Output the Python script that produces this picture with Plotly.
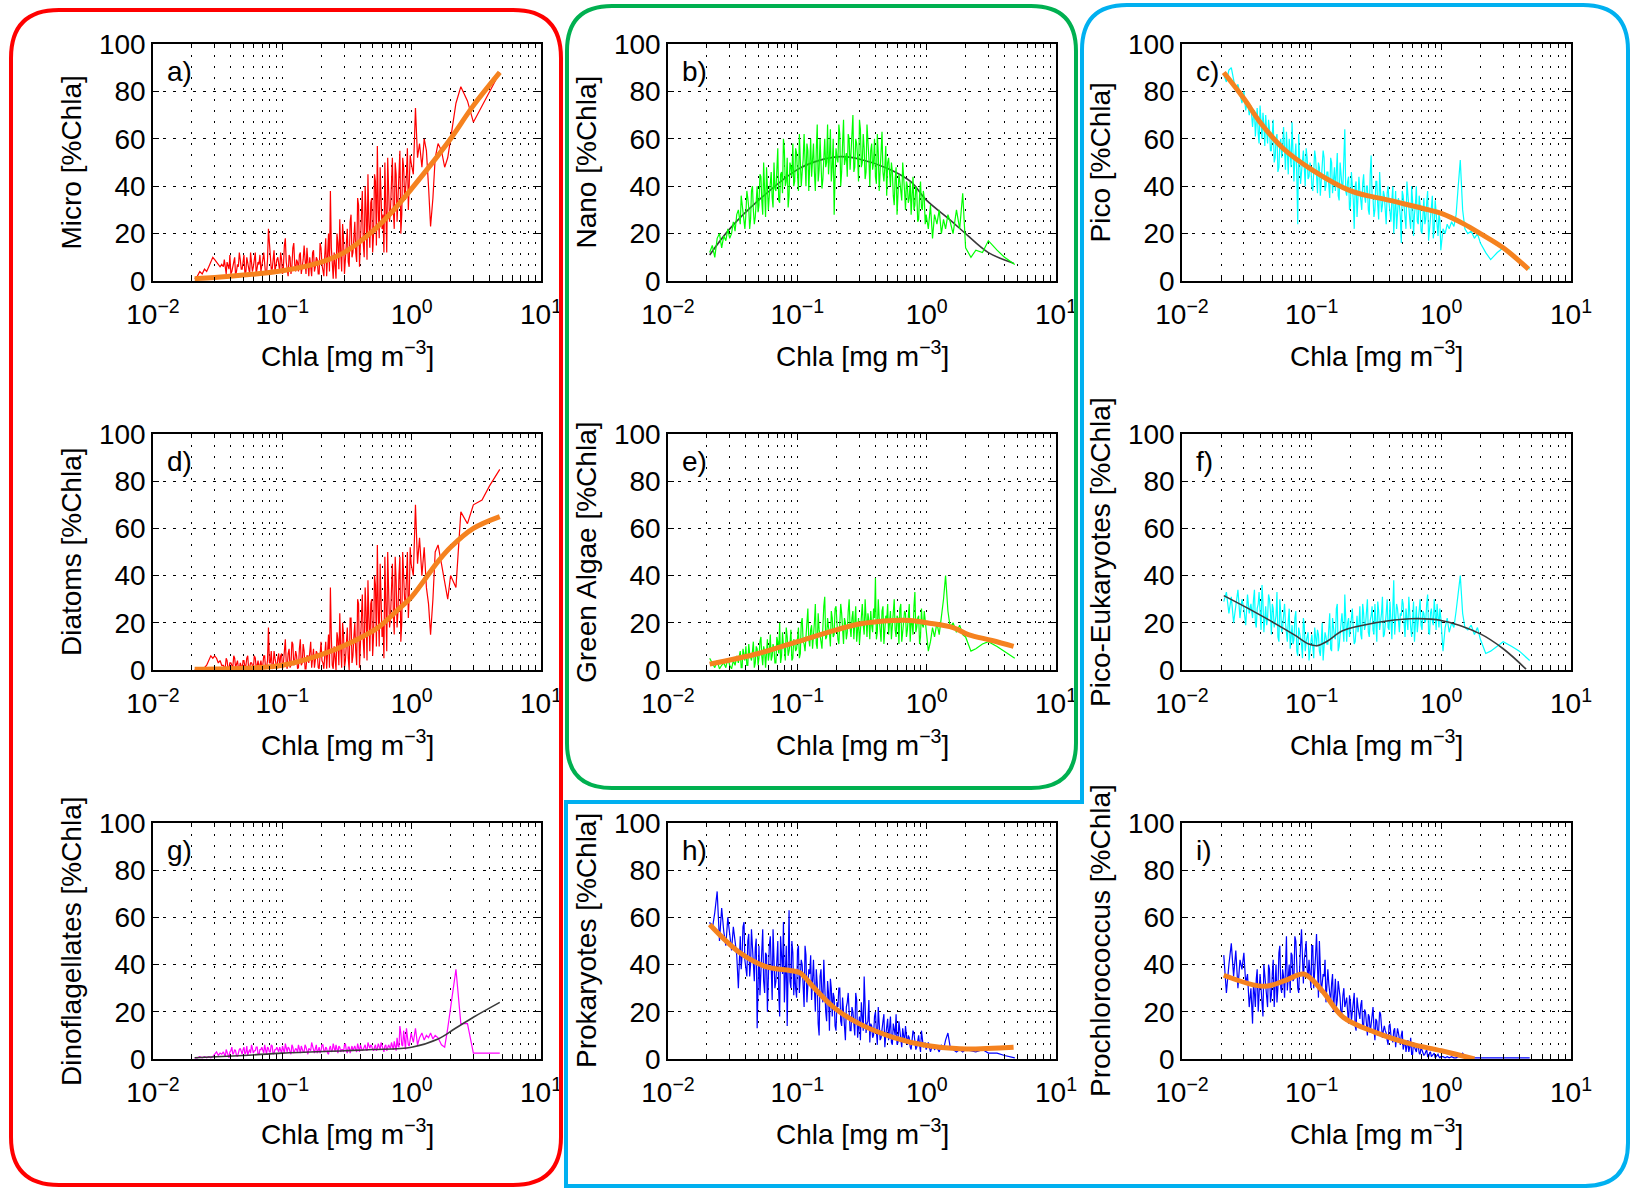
import plotly.graph_objects as go

# ---------------- shared Chla axis values ----------------
CHLA_LOW = [0.021, 0.022, 0.023, 0.024, 0.025, 0.026, 0.027, 0.028, 0.029, 0.030, 0.031, 0.032, 0.033, 0.034]
CHLA_MID = [0.0350, 0.0362, 0.0374, 0.0387, 0.0400, 0.0414, 0.0428, 0.0442, 0.0457, 0.0473,
            0.0489, 0.0505, 0.0523, 0.0540, 0.0559, 0.0578, 0.0597, 0.0618, 0.0639, 0.0660,
            0.0683, 0.0706, 0.0730, 0.0755, 0.0781, 0.0807, 0.0835, 0.0863, 0.0892, 0.0923,
            0.0954, 0.0987, 0.1020, 0.1055, 0.1090, 0.1128, 0.1166, 0.1206, 0.1247, 0.1289,
            0.1333, 0.1378, 0.1425, 0.1474, 0.1524, 0.1576, 0.1629, 0.1685, 0.1742, 0.1801,
            0.1862, 0.1926, 0.1991, 0.2059, 0.2129, 0.2201, 0.2276, 0.2353, 0.2433, 0.2516,
            0.2601, 0.2690, 0.2781, 0.2876, 0.2973, 0.3074, 0.3179, 0.3287, 0.3399, 0.3514,
            0.3634, 0.3757, 0.3885, 0.4017, 0.4154, 0.4295, 0.4441, 0.4592, 0.4748, 0.4910,
            0.5077, 0.5249, 0.5428, 0.5612, 0.5803, 0.6001, 0.6205, 0.6416, 0.6634, 0.6859,
            0.7093, 0.7334, 0.7583, 0.7841, 0.8108, 0.8383, 0.8668, 0.8963, 0.9268, 0.9583,
            0.9909]
CHLA_HIGH = [1.03, 1.07, 1.11, 1.15, 1.20, 1.25, 1.30, 1.35, 1.40, 1.46, 1.52, 1.60, 1.70, 1.80, 1.90, 2.00]
CHLA_TAIL = [2.2, 2.4, 2.7, 3.0, 3.5, 4.0, 4.8]
CHLA = CHLA_LOW + CHLA_MID + CHLA_HIGH + CHLA_TAIL
# second, interleaved set of bins in the densely sampled range
CHLA_MID2 = [0.0356, 0.0368, 0.0380, 0.0393, 0.0407, 0.0421, 0.0435, 0.0450, 0.0465, 0.0481,
             0.0497, 0.0514, 0.0531, 0.0549, 0.0568, 0.0587, 0.0607, 0.0628, 0.0649, 0.0671,
             0.0694, 0.0718, 0.0742, 0.0768, 0.0794, 0.0821, 0.0849, 0.0877, 0.0907, 0.0938,
             0.0970, 0.1003, 0.1037, 0.1072, 0.1109, 0.1147, 0.1186, 0.1226, 0.1268, 0.1311,
             0.1355, 0.1401, 0.1449, 0.1499, 0.1550, 0.1602, 0.1657, 0.1713, 0.1771, 0.1831,
             0.1894, 0.1958, 0.2025, 0.2094, 0.2165, 0.2238, 0.2314, 0.2393, 0.2474, 0.2558,
             0.2645, 0.2735, 0.2828, 0.2924, 0.3023, 0.3126, 0.3233, 0.3343, 0.3456, 0.3574,
             0.3695, 0.3821, 0.3951, 0.4085, 0.4224, 0.4368, 0.4516, 0.4670, 0.4829, 0.4993,
             0.5163, 0.5338, 0.5520, 0.5707, 0.5902, 0.6103, 0.6310, 0.6525, 0.6746, 0.6976,
             0.7213, 0.7458, 0.7712, 0.7974, 0.8245, 0.8525, 0.8815, 0.9115, 0.9425, 0.9745]

# ---------------- binned series (%Chla) ----------------
MICRO = ([1, 2, 4, 3, 5, 4, 6, 8, 10, 9, 8, 7, 6, 7] +
         [6, 4, 8, 5, 3, 7, 10, 4, 6, 9,
          5, 11, 4, 7, 3, 8, 6, 12, 5, 7,
          4, 9, 6, 3, 22, 8, 5, 13, 7, 10,
          4, 9, 6, 18, 5, 11, 3, 14, 7, 9,
          4, 12, 6, 15, 3, 8, 10, 2, 13, 6,
          9, 3, 14, 5, 11, 2, 20, 38, 6, 12,
          1, 16, 26, 4, 18, 9, 22, 6, 28, 12,
          25, 8, 32, 15, 38, 10, 30, 45, 14, 35,
          20, 42, 57, 18, 38, 28, 50, 12, 40, 30,
          52, 22, 45, 35, 55, 28, 48, 38, 56, 42,
          50] +
         [45, 73, 52, 58, 48, 60, 55, 40, 23, 35, 52, 58, 55, 48, 52, 60] +
         [75, 82, 76, 67, 74, 80, 88])
MICRO2 = [9, 3, 6, 11, 4, 8, 2, 7, 12, 5,
          8, 3, 10, 6, 12, 4, 9, 3, 8, 11,
          6, 12, 3, 9, 15, 5, 11, 4, 9, 6,
          12, 3, 15, 8, 2, 10, 6, 16, 4, 8,
          11, 3, 9, 6, 14, 2, 7, 12, 4, 10,
          3, 16, 7, 2, 18, 9, 4, 14, 1, 8,
          20, 5, 12, 24, 3, 14, 8, 25, 10, 18,
          12, 35, 6, 22, 16, 40, 9, 25, 33, 12,
          45, 15, 30, 48, 22, 12, 35, 52, 25, 45,
          30, 50, 25, 42, 20, 52, 35, 45, 30, 53]

NANO = ([12, 15, 10, 18, 20, 14, 19, 17, 22, 18, 20, 25, 21, 28] +
        [30, 24, 33, 26, 28, 35, 22, 38, 30, 27,
         40, 32, 44, 28, 36, 48, 30, 42, 35, 50,
         38, 56, 33, 46, 60, 40, 52, 36, 48, 58,
         42, 54, 38, 50, 46, 62, 40, 55, 48, 44,
         58, 38, 66, 47, 52, 43, 60, 50, 45, 64,
         48, 28, 56, 50, 62, 46, 68, 52, 44, 60,
         54, 70, 48, 58, 42, 64, 50, 56, 46, 60,
         40, 58, 50, 44, 62, 38, 52, 46, 48, 36,
         52, 40, 46, 32, 48, 38, 42, 34, 45, 30,
         40, 35, 28, 44, 32, 38, 26, 42, 30, 35,
         28] +
        [22, 32, 18, 28, 24, 30, 20, 26, 22, 28, 25, 20, 30, 22, 37, 14] +
        [10, 13, 12, 17, 13, 10, 7])
NANO2 = [25, 36, 28, 22, 38, 31, 26, 40, 24, 34,
         29, 45, 34, 50, 27, 41, 36, 46, 31, 39,
         52, 34, 45, 37, 55, 42, 31, 50, 44, 40,
         56, 45, 62, 40, 51, 48, 58, 38, 60, 53,
         46, 55, 42, 60, 39, 57, 48, 66, 52, 42,
         60, 44, 52, 66, 40, 58, 49, 54, 62, 47,
         62, 46, 60, 52, 68, 48, 62, 43, 66, 52,
         55, 47, 60, 41, 54, 48, 63, 42, 57, 50,
         44, 50, 36, 43, 28, 45, 36, 50, 38, 42,
         33, 42, 38, 30, 40, 25, 36, 31, 38, 24]

PICO = ([87, 84, 89, 90, 85, 80, 83, 78, 75, 80, 72, 76, 70, 74] +
        [65, 72, 68, 62, 74, 60, 66, 70, 58, 64,
         55, 68, 52, 62, 48, 60, 56, 50, 63, 45,
         54, 67, 42, 58, 24, 50, 46, 55, 40, 52,
         44, 48, 38, 55, 42, 50, 36, 47, 52, 40,
         46, 35, 50, 42, 38, 54, 34, 45, 40, 64,
         36, 44, 32, 40, 22, 42, 35, 38, 30, 45,
         33, 40, 28, 53, 35, 30, 42, 26, 38, 32,
         36, 24, 40, 30, 34, 20, 38, 28, 32, 16,
         36, 25, 42, 30, 22, 34, 28, 40, 24, 32,
         20, 35, 26, 38, 22, 30, 18, 34, 25, 28,
         13] +
        [22, 20, 24, 22, 25, 23, 28, 40, 51, 30, 22, 20, 21, 18, 20, 16] +
        [12, 9, 12, 14, 11, 8, 5])
PICO2 = [70, 61, 73, 58, 66, 71, 57, 63, 68, 55,
         62, 50, 60, 46, 58, 52, 65, 47, 55, 60,
         48, 57, 52, 44, 62, 41, 53, 48, 56, 43,
         50, 40, 46, 52, 37, 48, 43, 55, 38, 46,
         41, 52, 37, 48, 45, 36, 50, 40, 53, 38,
         42, 30, 46, 34, 40, 27, 44, 33, 41, 36,
         40, 30, 45, 36, 27, 42, 32, 46, 29, 38,
         28, 37, 33, 25, 40, 30, 22, 35, 27, 38,
         30, 22, 35, 26, 40, 19, 32, 25, 36, 21,
         30, 24, 33, 17, 28, 36, 22, 30, 19, 26]

DIATOMS = ([0, 0.5, 1, 0.5, 1, 2, 4, 6, 5, 6, 5, 3, 4, 2] +
           [2, 1, 4, 0.5, 3, 1, 5, 2, 1, 3,
            0.5, 4, 2, 6, 1, 3, 0.5, 5, 2, 1,
            4, 2, 6, 1, 18, 3, 0.5, 8, 2, 5,
            1, 7, 3, 13, 0.5, 9, 2, 11, 4, 6,
            1, 13, 3, 8, 0.5, 6, 10, 1, 9, 4,
            7, 0.5, 12, 3, 9, 0.5, 15, 35, 2, 10,
            0, 13, 24, 1, 15, 4, 18, 0, 22, 6,
            20, 2, 28, 10, 32, 5, 25, 38, 8, 30,
            15, 36, 53, 10, 32, 20, 48, 8, 35, 22,
            45, 15, 38, 25, 48, 20, 40, 28, 50, 32,
            45] +
           [40, 70, 45, 56, 40, 52, 35, 28, 15, 30, 50, 53, 45, 38, 30, 40] +
           [35, 67, 62, 70, 72, 78, 85])
DIATOMS2 = [1, 5, 0.5, 3, 2, 6, 1, 4, 0.5, 2,
            4, 1, 5, 0.5, 3, 2, 6, 1, 4, 2,
            1, 6, 0.5, 4, 3, 8, 1, 5, 0.5, 7,
            6, 0.5, 10, 3, 7, 1, 12, 2, 8, 0.5,
            9, 2, 11, 0.5, 6, 3, 12, 5, 1, 8,
            1, 10, 4, 0.5, 12, 6, 1, 14, 0.5, 5,
            16, 2, 9, 20, 1, 11, 5, 22, 3, 14,
            8, 30, 1, 18, 12, 35, 4, 22, 28, 6,
            40, 10, 26, 45, 14, 5, 30, 50, 18, 38,
            25, 48, 18, 40, 12, 50, 30, 42, 22, 52]

GREEN = ([5, 3, 1, 4, 0.5, 2, 3, 1, 5, 2, 0.5, 4, 2, 6] +
         [3, 8, 1, 6, 10, 2, 7, 4, 12, 3,
          9, 5, 14, 2, 8, 11, 4, 15, 6, 9,
          3, 12, 20, 6, 10, 4, 14, 8, 17, 5,
          12, 9, 18, 7, 22, 11, 15, 26, 10, 19,
          13, 28, 9, 17, 12, 21, 31, 14, 18, 10,
          22, 15, 27, 13, 19, 24, 11, 20, 16, 30,
          14, 25, 18, 12, 22, 17, 28, 15, 20, 24,
          13, 19, 26, 39, 16, 22, 12, 27, 18, 21,
          15, 25, 19, 30, 14, 22, 26, 12, 20, 24,
          17, 28, 21, 15, 33, 18, 23, 14, 19, 25,
          16] +
         [8, 12, 18, 14, 20, 15, 22, 30, 40, 25, 18, 20, 16, 19, 15, 14] +
         [8, 9, 11, 12, 10, 8, 5])
GREEN2 = [6, 1, 9, 4, 2, 11, 5, 8, 1, 10,
          2, 12, 6, 10, 1, 13, 7, 4, 11, 3,
          14, 7, 3, 16, 9, 18, 6, 11, 4, 13,
          8, 16, 5, 20, 12, 8, 22, 13, 17, 9,
          20, 11, 24, 15, 9, 27, 13, 22, 16, 25,
          14, 26, 18, 11, 28, 16, 22, 13, 25, 18,
          22, 13, 27, 20, 11, 26, 19, 30, 14, 21,
          25, 16, 22, 13, 30, 18, 25, 11, 23, 28,
          20, 13, 27, 17, 23, 11, 28, 16, 25, 14,
          23, 12, 20, 27, 16, 22, 11, 26, 18, 21]

PICOEUK = ([29, 33, 24, 31, 20, 28, 34, 22, 30, 26, 19, 32, 24, 28] +
           [22, 34, 18, 28, 25, 36, 16, 27, 22, 30,
            15, 26, 20, 33, 12, 24, 18, 28, 14, 21,
            9, 19, 13, 25, 6, 16, 11, 22, 8, 14,
            4, 12, 7, 18, 10, 15, 6, 20, 9, 14,
            11, 24, 8, 17, 13, 28, 10, 20, 15, 32,
            12, 22, 18, 26, 11, 21, 16, 27, 13, 24,
            19, 30, 14, 23, 17, 28, 12, 25, 20, 31,
            15, 24, 18, 29, 13, 38, 20, 26, 16, 23,
            28, 14, 22, 31, 18, 25, 12, 27, 20, 30,
            17, 24, 21, 32, 15, 26, 19, 23, 28, 18,
            22] +
           [8, 18, 22, 16, 20, 18, 25, 32, 40, 24, 18, 17, 19, 15, 18, 13] +
           [7, 8, 10, 12, 10, 8, 4])
PICOEUK2 = [30, 20, 26, 33, 17, 29, 24, 19, 32, 25,
            28, 18, 23, 14, 30, 16, 25, 20, 12, 26,
            17, 11, 22, 8, 18, 13, 5, 19, 12, 16,
            9, 15, 5, 13, 17, 8, 12, 4, 16, 11,
            18, 9, 22, 14, 26, 8, 17, 24, 12, 19,
            20, 14, 25, 17, 12, 23, 19, 15, 28, 17,
            24, 16, 21, 27, 15, 20, 29, 17, 24, 14,
            22, 30, 17, 21, 26, 15, 28, 19, 24, 30,
            20, 26, 17, 23, 14, 29, 21, 16, 25, 19,
            25, 20, 28, 16, 24, 21, 30, 17, 22, 26]

DINO = ([0.5, 0.5, 1, 0.5, 1, 0.5, 1, 0.5, 1, 2, 3, 1.5, 2.5, 2] +
        [3, 1, 2.5, 0.5, 3.5, 2, 4, 1.5, 3, 4.5,
         2, 5, 3, 1.5, 4, 6, 2.5, 3.5, 5, 2,
         4, 3, 6, 2, 4.5, 3, 5.5, 2.5, 4, 3.5,
         5, 2.5, 4, 6.5, 3, 4.5, 2, 5, 3.5, 4,
         6, 2.5, 4.5, 3, 5, 2, 4, 7, 3, 4.5,
         2.5, 5, 3.5, 6, 3, 4.5, 2, 5.5, 3.5, 4,
         6, 2.5, 5, 4, 3, 6.5, 2.5, 5, 4, 3.5,
         5.5, 3, 4.5, 6, 3.5, 5, 4, 7, 4.5, 5.5,
         3.5, 6, 4.5, 5, 7, 4, 5.5, 3.5, 6, 4.5,
         5, 7.5, 3.5, 5.5, 14, 6, 12, 4, 9, 5.5,
         11] +
        [7, 13, 6, 9, 11, 8, 10, 9, 11, 8.5, 10, 9, 6, 5, 13, 22] +
        [38, 15, 15, 2.5, 2.5, 2.5, 2.5])
DINO2 = [2, 4, 1.5, 3, 5, 2.5, 3.5, 1, 4, 2.5,
         4, 2, 5.5, 3, 2.5, 4.5, 3.5, 5, 2, 4,
         5, 2.5, 3.5, 5, 3, 6, 2, 4, 5, 3,
         3.5, 5.5, 2.5, 4, 5, 3, 6, 2.5, 4.5, 3,
         3.5, 5.5, 3, 6, 2.5, 4.5, 3.5, 5, 2.5, 6,
         4, 2.5, 6, 3.5, 5, 2.5, 4.5, 3, 6.5, 3,
         4.5, 5.5, 3, 4, 6, 3.5, 5, 2.5, 5.5, 4.5,
         4, 6.5, 3, 5, 4, 6, 3.5, 5, 6, 4,
         5, 3.5, 6.5, 4, 5.5, 3, 6, 4.5, 5, 7,
         4, 6, 9, 5, 11, 5.5, 8, 13, 6, 10]

PROK = ([58, 55, 62, 71, 50, 64, 54, 48, 60, 52, 46, 56, 49, 44] +
        [30, 52, 44, 58, 38, 50, 35, 55, 42, 47,
         13, 48, 36, 55, 28, 44, 38, 52, 25, 46,
         33, 50, 18, 42, 58, 35, 14, 63, 30, 45,
         38, 26, 48, 34, 40, 22, 44, 30, 36, 25,
         42, 20, 32, 10, 38, 24, 30, 16, 28, 34,
         18, 26, 12, 22, 30, 14, 20, 8, 24, 16,
         12, 20, 10, 25, 14, 8, 18, 35, 11, 16,
         7, 14, 10, 20, 6, 12, 9, 16, 5, 13,
         8, 18, 6, 11, 19, 7, 12, 5, 10, 14,
         6, 9, 4, 12, 7, 5, 10, 3, 8, 6,
         4] +
        [7, 3, 6, 4, 5, 3, 6, 4, 8, 11, 5, 4, 3, 4, 3, 4] +
        [3.5, 3, 4, 2.5, 2.5, 1.5, 0.5])
PROK2 = [48, 38, 56, 42, 35, 53, 40, 48, 33, 51,
         40, 27, 50, 33, 45, 20, 48, 36, 55, 30,
         45, 28, 52, 36, 24, 48, 40, 33, 50, 27,
         30, 46, 28, 42, 33, 48, 24, 38, 44, 32,
         30, 38, 15, 35, 27, 42, 20, 33, 12, 30,
         28, 14, 24, 30, 16, 26, 11, 22, 28, 12,
         22, 15, 28, 9, 18, 24, 12, 20, 15, 25,
         15, 9, 18, 12, 22, 8, 14, 19, 10, 17,
         12, 7, 15, 10, 6, 16, 9, 13, 7, 11,
         10, 5, 8, 11, 4, 9, 6, 12, 5, 7]

PROCHL = ([44, 28, 40, 49, 35, 46, 30, 42, 38, 45, 32, 36, 22, 30] +
          [15, 28, 34, 20, 36, 25, 40, 30, 22, 38,
           27, 42, 33, 24, 45, 30, 38, 26, 52, 35,
           28, 44, 34, 50, 30, 40, 55, 32, 46, 38,
           42, 30, 48, 36, 53, 26, 40, 32, 35, 24,
           38, 28, 32, 20, 34, 25, 30, 18, 27, 22,
           26, 15, 24, 19, 28, 12, 22, 17, 25, 14,
           20, 10, 18, 15, 22, 8, 16, 12, 19, 9,
           14, 11, 6, 15, 9, 12, 5, 13, 7, 10,
           4, 8, 6, 3, 9, 2, 5, 3, 6, 2,
           4, 1.5, 3, 1, 2.5, 1, 2, 0.5, 1.5, 1,
           1] +
          [1, 0.5, 1, 0.5, 1, 0.5, 0.5, 1, 1.5, 2.5, 1, 0.5, 0.5, 0.5, 0.5, 0.5] +
          [0.5, 0.5, 0.5, 0.5, 0.5, 0.5, 0.5])
PROCHL2 = [32, 22, 38, 26, 30, 18, 35, 27, 40, 24,
           36, 22, 40, 30, 48, 28, 35, 44, 29, 40,
           45, 33, 52, 38, 28, 48, 36, 42, 50, 34,
           36, 48, 30, 44, 38, 50, 28, 36, 42, 30,
           32, 24, 36, 28, 22, 33, 26, 20, 30, 25,
           20, 27, 16, 24, 14, 26, 18, 23, 13, 21,
           15, 19, 11, 21, 13, 17, 10, 20, 14, 12,
           12, 8, 14, 10, 7, 13, 9, 11, 6, 12,
           7, 3, 8, 5, 2, 7, 4, 6, 2.5, 5,
           3, 2, 4, 1, 3, 1.5, 2.5, 1, 2, 0.5]

# ---------------- fitted curves ----------------
FIT_A_X = [0.021, 0.03, 0.05, 0.1, 0.2, 0.3, 0.5, 0.7, 1.0, 1.5, 2.0, 3.0, 4.8]
FIT_A_Y = [1, 1.5, 2.5, 4.3, 8, 12, 21, 29, 39, 51, 60, 74, 88]
FIT_B_X = [0.021, 0.03, 0.05, 0.1, 0.15, 0.22, 0.3, 0.5, 0.75, 1.0, 1.5, 2.0, 3.0, 4.7]
FIT_B_Y = [11, 22, 34, 47, 51, 52.5, 51.5, 47.5, 42, 34, 26, 20, 12, 7.5]
FIT_C_X = [0.021, 0.03, 0.04, 0.06, 0.1, 0.2, 0.4, 0.8, 1.0, 1.5, 2.0, 3.0, 4.7]
FIT_C_Y = [88, 77, 67, 56, 47, 38, 34, 30, 28.5, 24, 20, 14, 5]
FIT_D_X = [0.021, 0.05, 0.1, 0.2, 0.35, 0.55, 0.8, 1.0, 1.6, 2.0, 3.0, 4.8]
FIT_D_Y = [0.3, 0.7, 2, 6.5, 12, 18, 26, 31, 46, 52, 60, 65]
FIT_E_X = [0.021, 0.05, 0.1, 0.2, 0.3, 0.55, 0.75, 1.0, 1.6, 2.1, 3.2, 4.7]
FIT_E_Y = [2.5, 7, 12, 17, 19.5, 21, 21, 20, 18, 15, 12.5, 10]
FIT_F_X = [0.021, 0.038, 0.073, 0.095, 0.11, 0.13, 0.175, 0.31, 0.58, 1.0, 2.0, 3.0, 4.5]
FIT_F_Y = [31.5, 24, 15, 11, 10.3, 12, 16.7, 20, 21.7, 21, 15.3, 9, 0.4]
FIT_G_X = [0.021, 0.05, 0.1, 0.3, 0.5, 1.0, 1.6, 2.15, 3.0, 4.8]
FIT_G_Y = [0.5, 1.5, 2.5, 3.5, 4, 5, 8.5, 12.8, 17.7, 24]
FIT_H_X = [0.021, 0.036, 0.058, 0.088, 0.105, 0.133, 0.19, 0.3, 0.55, 1.0, 1.8, 4.7]
FIT_H_Y = [57, 45, 39, 37.5, 36.5, 30.5, 22, 15, 9.2, 5.7, 4.3, 5]
FIT_I_X = [0.021, 0.043, 0.063, 0.087, 0.12, 0.175, 0.31, 0.58, 1.0, 1.8]
FIT_I_Y = [35.5, 30.8, 33.3, 36, 29, 17.7, 11.3, 6.4, 3.5, 0]

# ---------------- ticks ----------------
X_MAJOR_VALS = [0.01, 0.1, 1, 10]
X_MAJOR_TEXT = ["10<sup>−2</sup>", "10<sup>−1</sup>", "10<sup>0</sup>", "10<sup>1</sup>"]
X_MINOR_VALS = [0.02, 0.03, 0.04, 0.05, 0.06, 0.07, 0.08, 0.09,
                0.2, 0.3, 0.4, 0.5, 0.6, 0.7, 0.8, 0.9,
                2, 3, 4, 5, 6, 7, 8, 9]
Y_TICKVALS = [0, 20, 40, 60, 80, 100]
Y_TICKTEXT = ["0", "20", "40", "60", "80", "100"]
X_TITLE = "Chla [mg m<sup>−3</sup>]"

RED, GREEN_C, CYAN, MAGENTA, BLUE = "#ff0000", "#00ff00", "#00ffff", "#ff00ff", "#0000ff"
ORANGE, BLACK = "#f5821f", "#3a3a3a"

PANELS = [
    ("Micro [%Chla]", "a)", MICRO, MICRO2, RED, FIT_A_X, FIT_A_Y, ORANGE),
    ("Nano [%Chla]", "b)", NANO, NANO2, GREEN_C, FIT_B_X, FIT_B_Y, BLACK),
    ("Pico [%Chla]", "c)", PICO, PICO2, CYAN, FIT_C_X, FIT_C_Y, ORANGE),
    ("Diatoms [%Chla]", "d)", DIATOMS, DIATOMS2, RED, FIT_D_X, FIT_D_Y, ORANGE),
    ("Green Algae [%Chla]", "e)", GREEN, GREEN2, GREEN_C, FIT_E_X, FIT_E_Y, ORANGE),
    ("Pico-Eukaryotes [%Chla]", "f)", PICOEUK, PICOEUK2, CYAN, FIT_F_X, FIT_F_Y, BLACK),
    ("Dinoflagellates [%Chla]", "g)", DINO, DINO2, MAGENTA, FIT_G_X, FIT_G_Y, BLACK),
    ("Prokaryotes [%Chla]", "h)", PROK, PROK2, BLUE, FIT_H_X, FIT_H_Y, ORANGE),
    ("Prochlorococcus [%Chla]", "i)", PROCHL, PROCHL2, BLUE, FIT_I_X, FIT_I_Y, ORANGE),
]

for p in PANELS:
    assert len(p[2]) == len(CHLA), (p[0], len(p[2]), len(CHLA))
    assert len(p[3]) == len(CHLA_MID2), (p[0], len(p[3]), len(CHLA_MID2))

# ---------------- layout geometry (pixels) ----------------
W, H = 1633, 1188
COLS = [(153, 541), (668, 1056), (1182, 1571)]
ROWS = [(44, 281), (434, 670), (823, 1059)]
FONT = "Liberation Sans, Arial, sans-serif"
FS = 28


def fx(x):
    return x / W


def fy(y):
    return 1 - y / H


fig = go.Figure()
layout = dict(width=W, height=H, autosize=False, margin=dict(l=0, r=0, t=0, b=0, pad=0),
              paper_bgcolor="white", plot_bgcolor="white", showlegend=False,
              font=dict(family=FONT, size=FS, color="black"))
annotations = []

for i, (ytitle, letter, series, series2, col, fitx, fity, fitcol) in enumerate(PANELS):
    r, c = divmod(i, 3)
    k = i + 1
    xa = "xaxis" if k == 1 else f"xaxis{k}"
    ya = "yaxis" if k == 1 else f"yaxis{k}"
    xr = "x" if k == 1 else f"x{k}"
    yr = "y" if k == 1 else f"y{k}"
    x0, x1 = COLS[c]
    y0, y1 = ROWS[r]
    common = dict(showline=True, linecolor="black", linewidth=1.5, mirror="allticks",
                  ticks="inside", ticklen=6, tickcolor="black", tickwidth=1,
                  showgrid=True, gridcolor="black", gridwidth=1.2, automargin=False,
                  zeroline=False, tickfont=dict(size=FS, family=FONT, color="black"))
    layout[xa] = dict(common, domain=[fx(x0), fx(x1)], anchor=yr, type="log", range=[-2, 1],
                      griddash="2px,9px",
                      tickmode="array", tickvals=X_MAJOR_VALS, ticktext=X_MAJOR_TEXT,
                      minor=dict(tickmode="array", tickvals=X_MINOR_VALS, ticks="inside",
                                 ticklen=4, tickcolor="black", showgrid=True,
                                 gridcolor="black", gridwidth=1.2, griddash="2px,9px"),
                      ticklabelstandoff=8)
    layout[ya] = dict(common, domain=[fy(y1), fy(y0)], anchor=xr, range=[0, 100],
                      griddash="3px,7px",
                      tickmode="array", tickvals=Y_TICKVALS, ticktext=Y_TICKTEXT,
                      ticklabelstandoff=0)

    pts = sorted(zip(CHLA + CHLA_MID2, series + series2))
    noisy = go.Scatter(x=[p[0] for p in pts], y=[p[1] for p in pts], mode="lines",
                       xaxis=xr, yaxis=yr, line=dict(color=col, width=1.2), hoverinfo="skip")
    fw = 5 if fitcol == ORANGE else 1.6
    fit = go.Scatter(x=fitx, y=fity, mode="lines", xaxis=xr, yaxis=yr,
                     line=dict(color=fitcol, width=fw, shape="spline", smoothing=1.0),
                     hoverinfo="skip")
    if letter == "b)":
        fig.add_trace(fit)
        fig.add_trace(noisy)
    else:
        fig.add_trace(noisy)
        fig.add_trace(fit)

    annotations.append(dict(text=letter, xref=f"{xr} domain", yref=f"{yr} domain",
                            x=0.03, y=0.885, xanchor="left", yanchor="middle",
                            showarrow=False, font=dict(size=FS, family=FONT, color="black")))
    annotations.append(dict(text=ytitle, xref="paper", yref="paper",
                            x=fx(x0 - 82), y=fy((y0 + y1) / 2), textangle=-90,
                            xanchor="center", yanchor="middle", showarrow=False,
                            font=dict(size=FS, family=FONT, color="black")))
    annotations.append(dict(text=X_TITLE, xref="paper", yref="paper",
                            x=fx((x0 + x1) / 2), y=fy(y1 + 73),
                            xanchor="center", yanchor="middle", showarrow=False,
                            font=dict(size=FS, family=FONT, color="black")))

layout["annotations"] = annotations


def P(x, y):
    return f"{fx(x):.5f},{fy(y):.5f}"


def rounded(x0, y0, x1, y1, rr):
    return (f"M {P(x0 + rr, y0)} L {P(x1 - rr, y0)} Q {P(x1, y0)} {P(x1, y0 + rr)} "
            f"L {P(x1, y1 - rr)} Q {P(x1, y1)} {P(x1 - rr, y1)} "
            f"L {P(x0 + rr, y1)} Q {P(x0, y1)} {P(x0, y1 - rr)} "
            f"L {P(x0, y0 + rr)} Q {P(x0, y0)} {P(x0 + rr, y0)} Z")


blue_path = (f"M {P(566, 1186)} L {P(566, 802)} L {P(1082, 802)} L {P(1082, 50)} "
             f"Q {P(1082, 5)} {P(1127, 5)} L {P(1583, 5)} Q {P(1628, 5)} {P(1628, 50)} "
             f"L {P(1628, 1143)} Q {P(1628, 1186)} {P(1585, 1186)} Z")

layout["shapes"] = [
    dict(type="path", xref="paper", yref="paper", path=rounded(11, 10, 561, 1185, 48),
         line=dict(color="#ff0000", width=4), layer="above"),
    dict(type="path", xref="paper", yref="paper", path=rounded(567, 6, 1076, 788, 45),
         line=dict(color="#00b050", width=4), layer="above"),
    dict(type="path", xref="paper", yref="paper", path=blue_path,
         line=dict(color="#00b0f0", width=4), layer="above"),
]

fig.update_layout(**layout)
fig.write_html("out.html", config={"responsive": False, "displayModeBar": False},
               post_script="document.body.style.margin='0';")
